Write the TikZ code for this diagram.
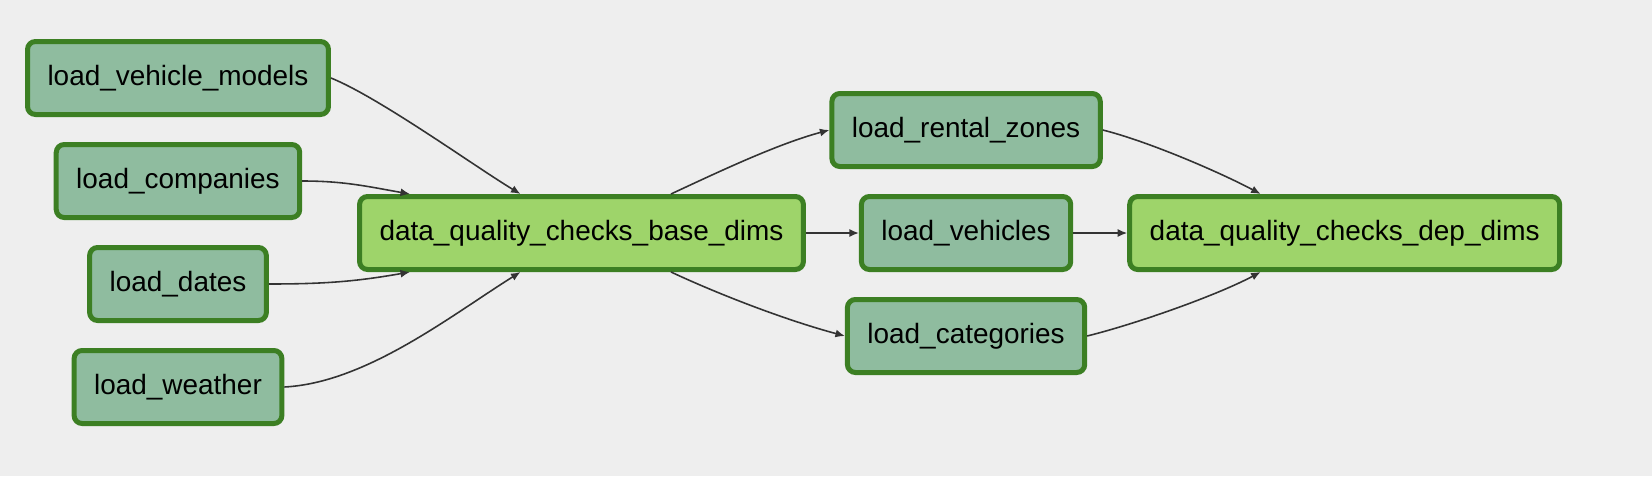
\documentclass[tikz,border=0pt]{standalone}
\usepackage{fontspec}
\setmainfont{Liberation Sans}
\usepackage{tikz}
\usetikzlibrary{positioning}
\usetikzlibrary{arrows.meta}
\definecolor{bgcolor}{HTML}{EEEEEE}
\definecolor{nodeborder}{HTML}{3C7F23}
\definecolor{loadfill}{HTML}{8FBC9F}
\definecolor{checkfill}{HTML}{9ED46A}
\definecolor{edgecolor}{HTML}{333333}

\begin{document}
\begin{tikzpicture}[
loadnode/.style={rectangle, rounded corners=0.16cm, draw=nodeborder, fill=loadfill, line width=0.1cm, minimum height=1.46cm, inner xsep=0.4cm, font=\fontsize{15.9}{19}\selectfont},
checknode/.style={rectangle, rounded corners=0.16cm, draw=nodeborder, fill=checkfill, line width=0.1cm, minimum height=1.46cm, inner xsep=0.4cm, font=\fontsize{15.9}{19}\selectfont},
edge/.style={-{Latex[length=1.9mm,width=1.6mm]}, draw=edgecolor, line width=0.9pt},
]
%Background
\fill[bgcolor] (-11.63,-4.86) rectangle (21.41,4.66);
\useasboundingbox (-11.63,-4.86) rectangle (21.41,4.66);

%Nodes
\node[checknode]      (dqbase)                                   {data\_quality\_checks\_base\_dims};
\node[loadnode]       (lvm)      at (-8.07,3.1)                  {load\_vehicle\_models};
\node[loadnode]       (lcomp)    [below=0.5cm of lvm]            {load\_companies};
\node[loadnode]       (ldates)   [below=0.5cm of lcomp]          {load\_dates};
\node[loadnode]       (lweather) [below=0.5cm of ldates]         {load\_weather};
\node[loadnode]       (lveh)     [right=1.06cm of dqbase]        {load\_vehicles};
\node[loadnode]       (lzones)   [above=0.5cm of lveh]           {load\_rental\_zones};
\node[loadnode]       (lcat)     [below=0.5cm of lveh]           {load\_categories};
\node[checknode]      (dqdep)    [right=1.08cm of lveh]          {data\_quality\_checks\_dep\_dims};

%Lines
\draw[edge] (lvm.east) to[out=-22, in=149, looseness=0.6] ([xshift=-1.22cm]dqbase.north);
\draw[edge] (lcomp.east) to[out=0, in=170] ([xshift=-3.43cm]dqbase.north);
\draw[edge] (ldates.east) to[out=0, in=190] ([xshift=-3.43cm]dqbase.south);
\draw[edge] (lweather.east) to[out=3, in=212, looseness=0.8] ([xshift=-1.22cm]dqbase.south);
\draw[edge] ([xshift=1.79cm]dqbase.north) to[out=25, in=195, looseness=0.8] (lzones.west);
\draw[edge] (dqbase.east) -- (lveh.west);
\draw[edge] ([xshift=1.79cm]dqbase.south) to[out=-25, in=165, looseness=0.8] (lcat.west);
\draw[edge] (lzones.east) to[out=-14, in=152, looseness=0.7] ([xshift=-1.68cm]dqdep.north);
\draw[edge] (lveh.east) -- (dqdep.west);
\draw[edge] (lcat.east) to[out=14, in=-152, looseness=0.7] ([xshift=-1.68cm]dqdep.south);
\end{tikzpicture}
\end{document}
